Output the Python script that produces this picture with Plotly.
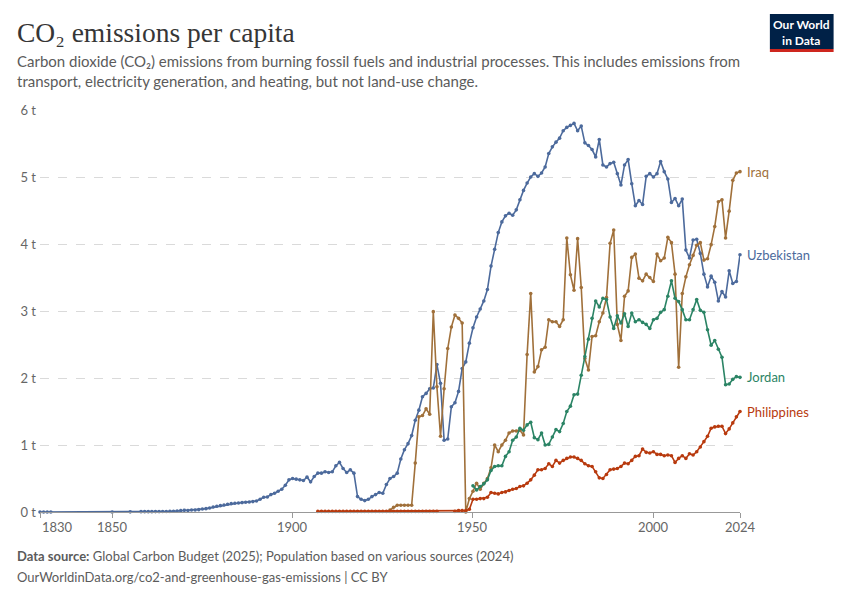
import plotly.graph_objects as go

# page body adds an 8px margin, so the figure is laid out 8px up/left
OFF = 8
W, H = 834, 584
L, R, T, B = 29, 102, 102, 80

# --- data (tonnes of CO2 per person) ---
uzb_years = [1830, 1831, 1832, 1833, 1850, 1855] + list(range(1858, 2025))
uzb_values = [
    0.0, 0.0, 0.0, 0.0, 0.0, 0.002,
    0.005, 0.005, 0.005, 0.005, 0.006, 0.006, 0.007, 0.008, 0.010, 0.012,
    0.015, 0.020, 0.025, 0.022, 0.030, 0.030, 0.035, 0.045, 0.050, 0.060,
    0.075, 0.085, 0.095, 0.105, 0.115, 0.125, 0.130, 0.135, 0.140, 0.145,
    0.150, 0.155, 0.165, 0.190, 0.220, 0.225, 0.260, 0.280, 0.310, 0.340,
    0.400, 0.480,
    0.50, 0.49, 0.48, 0.47, 0.52, 0.45, 0.53, 0.58, 0.58, 0.60,
    0.59, 0.60, 0.69, 0.74, 0.65, 0.59, 0.63, 0.58, 0.23, 0.19,
    0.17, 0.19, 0.23, 0.26, 0.29, 0.28, 0.41, 0.50, 0.53, 0.58,
    0.79, 0.93, 1.02, 1.14, 1.37, 1.52, 1.72, 1.77, 1.84, 1.85,
    2.20, 1.92, 1.07, 1.09, 1.57, 1.63, 1.80, 2.14, 2.24, 2.52,
    2.75, 2.91, 3.03, 3.15, 3.32, 3.67, 3.92, 4.17, 4.33, 4.42,
    4.46, 4.43, 4.51, 4.66, 4.80, 4.91, 5.00, 5.05, 5.01, 5.06,
    5.15, 5.35, 5.45, 5.52, 5.58, 5.69, 5.74, 5.77, 5.80, 5.69,
    5.76, 5.51, 5.47, 5.41, 5.30, 5.56, 5.18, 5.15, 5.20, 5.22,
    5.05, 4.88, 5.18, 5.26, 4.90, 4.57, 4.65, 4.59, 5.01, 5.05,
    5.00, 5.05, 5.23, 5.08, 4.97, 4.62, 4.68, 4.57, 4.67, 3.91,
    3.79, 4.06, 4.07, 3.86, 3.55, 3.36, 3.52, 3.43, 3.15, 3.29,
    3.21, 3.60, 3.41, 3.44, 3.84,
]

irq_years = list(range(1927, 2025))
irq_values = [
    0.03, 0.07, 0.10, 0.10, 0.10, 0.10, 0.10, 0.73, 1.42, 1.44,
    1.54, 1.46, 2.99, 1.87, 1.13, 1.84, 2.44, 2.76, 2.94, 2.89,
    2.82, 0.00, 0.20, 0.31, 0.43, 0.34, 0.43, 0.50, 0.66, 1.00,
    0.90, 1.00, 1.07, 1.18, 1.21, 1.21, 1.22, 1.15, 2.35, 3.26,
    2.09, 2.17, 2.42, 2.46, 2.87, 2.84, 2.84, 2.77, 2.87, 4.09,
    3.54, 3.31, 4.08, 3.35, 2.29, 2.12, 2.62, 2.63, 2.84, 2.97,
    3.20, 4.01, 4.21, 2.80, 2.56, 3.22, 3.30, 3.80, 3.85, 3.49,
    3.45, 3.55, 3.50, 3.44, 3.85, 3.75, 3.79, 4.10, 4.02, 3.55,
    2.16, 3.26, 3.51, 3.69, 3.83, 3.98, 4.02, 3.76, 3.78, 3.99,
    4.26, 4.63, 4.66, 4.09, 4.49, 4.95, 5.06, 5.08,
]

jor_years = list(range(1950, 2025))
jor_values = [
    0.39, 0.33, 0.38, 0.42, 0.48, 0.62, 0.68, 0.69, 0.69, 0.83,
    0.90, 1.07, 1.12, 1.25, 1.22, 1.30, 1.34, 1.11, 1.08, 1.18,
    1.00, 1.01, 1.12, 1.23, 1.20, 1.32, 1.50, 1.58, 1.75, 1.76,
    2.04, 2.32, 2.58, 2.89, 3.15, 3.06, 3.19, 3.17, 2.91, 2.74,
    2.93, 2.82, 2.96, 2.77, 2.97, 2.84, 2.87, 2.83, 2.80, 2.74,
    2.87, 2.89, 2.98, 3.02, 3.22, 3.45, 3.19, 3.14, 3.02, 2.87,
    2.87, 3.02, 3.17, 3.01, 2.98, 2.72, 2.49, 2.56, 2.43, 2.31,
    1.90, 1.91, 1.98, 2.02, 2.01,
]

phl_years = list(range(1907, 1941)) + list(range(1945, 2025))
phl_values = [
    0.01, 0.01, 0.01, 0.01, 0.01, 0.01, 0.01, 0.01, 0.01, 0.01,
    0.01, 0.01, 0.01, 0.01, 0.01, 0.01, 0.01, 0.01, 0.01, 0.01,
    0.01, 0.01, 0.01, 0.01, 0.01, 0.01, 0.01, 0.01, 0.01, 0.01,
    0.01, 0.01, 0.01, 0.01,
    0.01, 0.02, 0.02, 0.02, 0.04,
    0.19, 0.19, 0.20, 0.20, 0.22, 0.29, 0.28, 0.27, 0.29, 0.30,
    0.32, 0.34, 0.35, 0.38, 0.39, 0.43, 0.48, 0.55, 0.63, 0.63,
    0.65, 0.72, 0.68, 0.77, 0.73, 0.77, 0.80, 0.82, 0.82, 0.80,
    0.77, 0.72, 0.69, 0.68, 0.60, 0.51, 0.50, 0.56, 0.63, 0.64,
    0.65, 0.68, 0.73, 0.72, 0.77, 0.83, 0.84, 0.94, 0.89, 0.88,
    0.90, 0.86, 0.86, 0.84, 0.85, 0.84, 0.74, 0.80, 0.84, 0.80,
    0.87, 0.85, 0.90, 0.97, 1.05, 1.13, 1.25, 1.27, 1.28, 1.28,
    1.17, 1.24, 1.33, 1.42, 1.50,
]

x_ticks = [1830, 1850, 1900, 1950, 2000, 2024]
y_ticks = [0, 1, 2, 3, 4, 5, 6]
y_ticktext = ["0 t", "1 t", "2 t", "3 t", "4 t", "5 t", "6 t"]

series = [
    ("Uzbekistan", uzb_years, uzb_values, "#4C6A9C"),
    ("Iraq", irq_years, irq_values, "#A0703A"),
    ("Jordan", jor_years, jor_values, "#2B8465"),
    ("Philippines", phl_years, phl_values, "#B83A0E"),
]

GREY = "#5b5b5b"
FONT = "Lato"


def px(x):
    # screenshot x pixel -> paper coordinate
    return (x - OFF - L) / (W - L - R)


def py(y):
    # screenshot y pixel -> paper coordinate
    return (H - B - (y - OFF)) / (H - T - B)


fig = go.Figure()
for name, xs, ys, color in series:
    fig.add_trace(go.Scatter(
        x=xs, y=ys, name=name, mode="lines+markers",
        line=dict(color=color, width=1.6),
        marker=dict(color=color, size=3.6),
        cliponaxis=False, showlegend=False,
    ))
    fig.add_annotation(
        x=xs[-1], y=ys[-1], text=name, showarrow=False,
        xanchor="left", yanchor="middle", xshift=5,
        font=dict(family=FONT, size=13, color=color),
    )

# x tick labels (first one left-aligned like the original)
for yr in x_ticks:
    fig.add_annotation(
        x=yr, y=0, yref="y", text=str(yr), showarrow=False,
        xanchor="left" if yr == x_ticks[0] else "center", yanchor="top",
        yshift=-5, font=dict(family=FONT, size=13, color="#666"),
    )

# header
fig.add_annotation(
    x=px(12), y=py(32), xref="paper", yref="paper", xanchor="left", yanchor="middle",
    text="CO₂ emissions per capita", showarrow=False,
    font=dict(family="Liberation Serif", size=27.5, color="#363636"),
)
fig.add_annotation(
    x=px(12), y=py(71), xref="paper", yref="paper", xanchor="left", yanchor="middle",
    align="left", showarrow=False,
    text=("Carbon dioxide (CO₂) emissions from burning fossil fuels and industrial processes. "
          "This includes emissions from<br>transport, electricity generation, and heating, "
          "but not land-use change."),
    font=dict(family=FONT, size=15, color=GREY),
)

# logo
fig.add_shape(type="rect", xref="paper", yref="paper",
              x0=px(770), x1=px(834), y0=py(49), y1=py(14),
              fillcolor="#002147", line=dict(width=0), layer="above")
fig.add_shape(type="rect", xref="paper", yref="paper",
              x0=px(770), x1=px(834), y0=py(52), y1=py(49),
              fillcolor="#CE261E", line=dict(width=0), layer="above")
fig.add_annotation(
    x=px(802), y=py(32), xref="paper", yref="paper", xanchor="center", yanchor="middle",
    text="<b>Our World<br>in Data</b>", showarrow=False, align="center",
    font=dict(family=FONT, size=12, color="white"),
)

# footer
fig.add_annotation(
    x=px(12), y=py(556), xref="paper", yref="paper", xanchor="left", yanchor="middle",
    text="<b>Data source:</b> Global Carbon Budget (2025); Population based on various sources (2024)",
    showarrow=False, font=dict(family=FONT, size=13, color=GREY),
)
fig.add_annotation(
    x=px(12), y=py(577), xref="paper", yref="paper", xanchor="left", yanchor="middle",
    text="OurWorldinData.org/co2-and-greenhouse-gas-emissions | CC BY",
    showarrow=False, font=dict(family=FONT, size=13, color=GREY),
)

fig.update_layout(
    width=W, height=H, autosize=False,
    margin=dict(l=L, r=R, t=T, b=B),
    paper_bgcolor="white", plot_bgcolor="white",
    font=dict(family=FONT, color="#666"),
    hovermode=False,
)
fig.update_xaxes(
    range=[1830, 2024], tickvals=x_ticks, showticklabels=False,
    ticks="outside", ticklen=5, tickcolor="#999",
    showgrid=False, zeroline=False,
    showline=True, linecolor="#999", linewidth=1,
)
fig.update_yaxes(
    range=[0, 6], tickvals=y_ticks, ticktext=y_ticktext,
    ticks="", ticklabelstandoff=3,
    tickfont=dict(family=FONT, size=13, color="#666"),
    showgrid=True, gridcolor="#dadada", griddash="dash", gridwidth=1,
    zeroline=False, showline=False,
)

fig.write_html("out.html")
